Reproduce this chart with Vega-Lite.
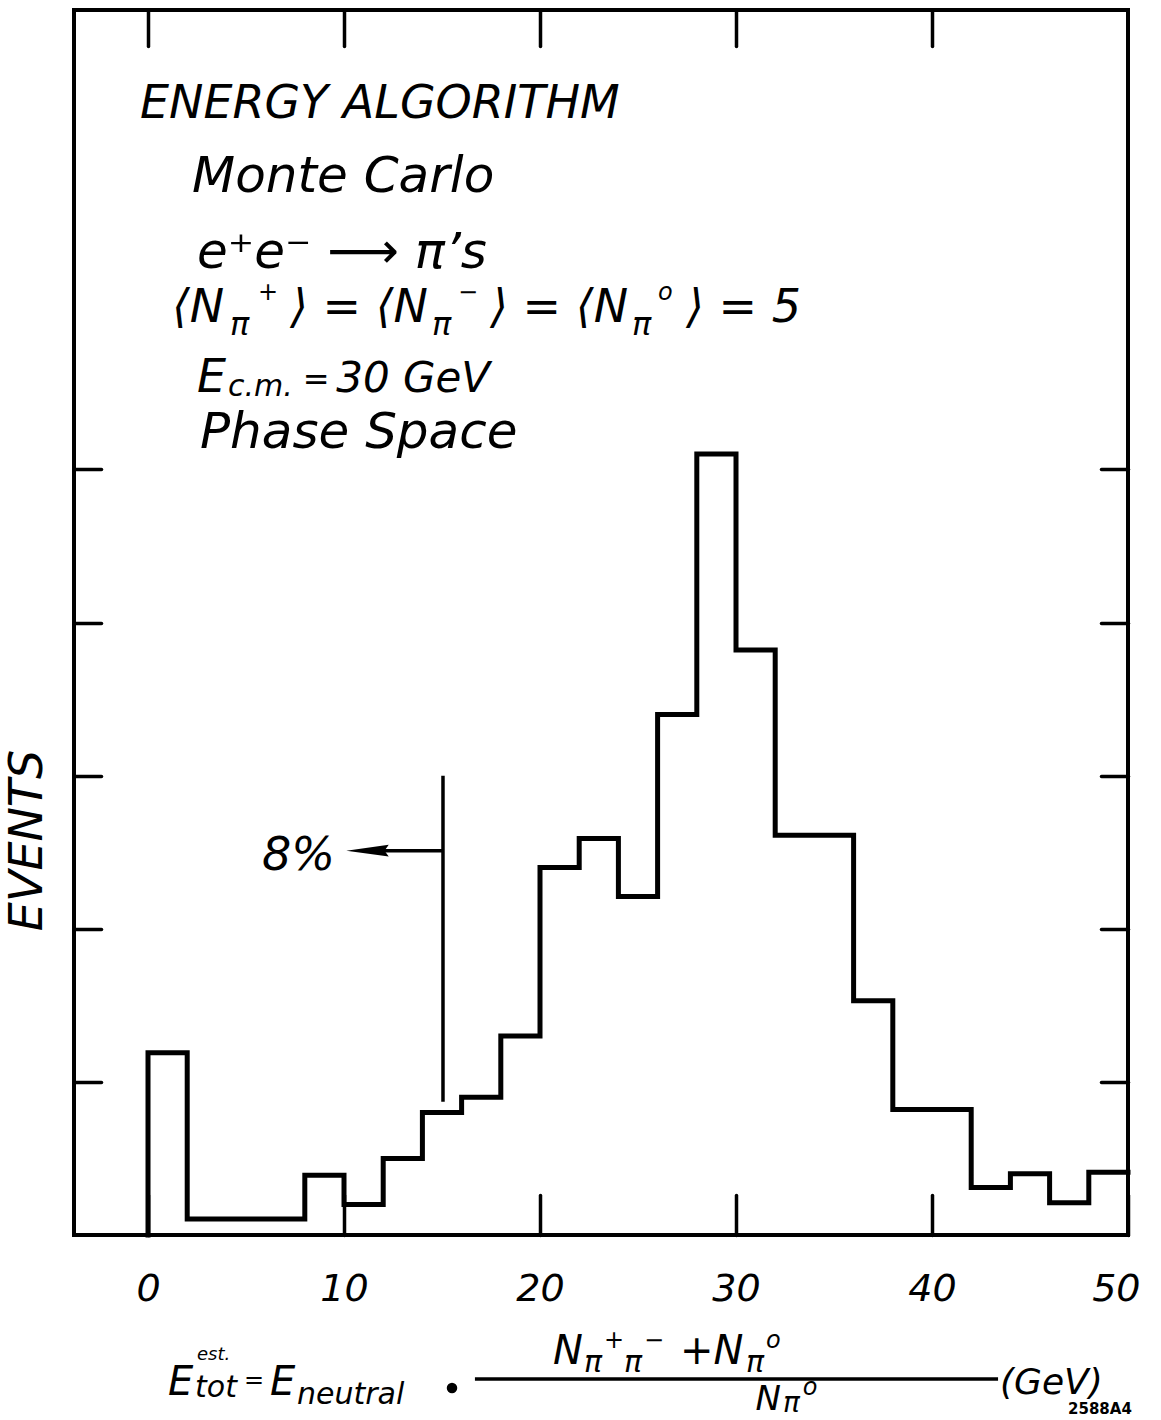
{
  "$schema": "https://vega.github.io/schema/vega-lite/v6.json",
  "autosize": {"type": "none"},
  "width": 1054,
  "height": 1225,
  "padding": {"left": 74, "top": 10, "right": 33, "bottom": 185},
  "background": "white",
  "datasets": {
    "hist": [
      {"E": 0, "events": 0},
      {"E": 0, "events": 1.19},
      {"E": 2, "events": 0.105},
      {"E": 4, "events": 0.105},
      {"E": 6, "events": 0.105},
      {"E": 8, "events": 0.39},
      {"E": 10, "events": 0.2},
      {"E": 12, "events": 0.5},
      {"E": 14, "events": 0.8},
      {"E": 16, "events": 0.9},
      {"E": 18, "events": 1.3},
      {"E": 20, "events": 2.4},
      {"E": 22, "events": 2.59},
      {"E": 24, "events": 2.21},
      {"E": 26, "events": 3.4},
      {"E": 28, "events": 5.1},
      {"E": 30, "events": 3.82},
      {"E": 32, "events": 2.61},
      {"E": 34, "events": 2.61},
      {"E": 36, "events": 1.53},
      {"E": 38, "events": 0.82},
      {"E": 40, "events": 0.82},
      {"E": 42, "events": 0.31},
      {"E": 44, "events": 0.4},
      {"E": 46, "events": 0.21},
      {"E": 48, "events": 0.41},
      {"E": 50, "events": 0.41}
    ],
    "rules": [
      {"x": 15.05, "x2": 15.05, "y": 0.87, "y2": 3.0},
      {"x": 11.0, "x2": 15.05, "y": 2.51, "y2": 2.51},
      {"x": 16.68, "x2": 43.37, "y": -0.9405, "y2": -0.9405}
    ],
    "arrow": [{"x": 11.2, "y": 2.51}],
    "dot": [{"x": 15.51, "y": -0.999}],
    "t50": [
      {"t": "Monte Carlo", "x": 2.245, "y": 6.812},
      {"t": "e⁺e⁻ ⟶ π’s", "x": 2.5, "y": 6.316},
      {"t": "Phase Space", "x": 2.65, "y": 5.14}
    ],
    "t46": [
      {"t": "ENERGY ALGORITHM", "x": -0.41, "y": 7.296},
      {"t": "⟨N", "x": 1.22, "y": 5.963},
      {"t": "⟩ = ⟨N", "x": 7.24, "y": 5.963},
      {"t": "⟩ = ⟨N", "x": 17.45, "y": 5.963},
      {"t": "⟩ = 5", "x": 27.45, "y": 5.963},
      {"t": "E", "x": 2.5, "y": 5.506},
      {"t": "8%", "x": 5.82, "y": 2.384}
    ],
    "t42": [
      {"t": "30 GeV", "x": 9.6, "y": 5.506}
    ],
    "t40": [
      {"t": "E", "x": 1.02, "y": -1.045},
      {"t": "E", "x": 6.22, "y": -1.045},
      {"t": "N", "x": 20.66, "y": -0.8425},
      {"t": "+N", "x": 27.14, "y": -0.8425}
    ],
    "t36": [
      {"t": "(GeV)", "x": 43.47, "y": -1.039}
    ],
    "t34": [
      {"t": "N", "x": 31.0, "y": -1.143}
    ],
    "t32": [
      {"t": "π", "x": 4.18, "y": 5.878},
      {"t": "π", "x": 14.49, "y": 5.878},
      {"t": "π", "x": 24.69, "y": 5.878},
      {"t": "=", "x": 7.9, "y": 5.518}
    ],
    "t30": [
      {"t": "c.m.", "x": 4.08, "y": 5.479},
      {"t": "tot", "x": 2.4, "y": -1.058},
      {"t": "neutral", "x": 7.6, "y": -1.104},
      {"t": "π", "x": 22.24, "y": -0.895},
      {"t": "π", "x": 24.29, "y": -0.895},
      {"t": "π", "x": 30.51, "y": -0.895}
    ],
    "t28": [
      {"t": "π", "x": 32.4, "y": -1.156}
    ],
    "t24": [
      {"t": "+", "x": 5.61, "y": 6.107},
      {"t": "−", "x": 15.82, "y": 6.107},
      {"t": "o", "x": 26.02, "y": 6.107},
      {"t": "=", "x": 4.9, "y": -0.999},
      {"t": "+", "x": 23.27, "y": -0.738},
      {"t": "−", "x": 25.31, "y": -0.738},
      {"t": "o", "x": 31.53, "y": -0.738},
      {"t": "o", "x": 33.4, "y": -1.045}
    ],
    "t18": [{"t": "est.", "x": 2.5, "y": -0.816}],
    "code": [{"t": "2588A4", "x": 46.94, "y": -1.17}]
  },
  "layer": [
    {
      "data": {"name": "hist"},
      "mark": {"type": "line", "interpolate": "step-after", "color": "black", "strokeWidth": 5, "strokeJoin": "miter", "strokeCap": "square"},
      "encoding": {
        "x": {"field": "E", "type": "quantitative",
              "scale": {"domain": [-3.776, 50], "nice": false, "zero": false},
              "axis": {"orient": "bottom", "values": [0, 10, 20, 30, 40, 50], "tickSize": -40, "labelPadding": 75,
                       "labelFontSize": 38, "labelFontStyle": "italic", "title": null,
                       "labelFlush": true, "labelFlushOffset": 12}},
        "y": {"field": "events", "type": "quantitative",
              "scale": {"domain": [0, 8], "nice": false, "zero": true},
              "axis": {"orient": "left", "values": [1, 2, 3, 4, 5], "tickSize": -27, "labels": false,
                       "title": "EVENTS", "titleFontSize": 46, "titleFontStyle": "italic", "titleFontWeight": "normal",
                       "titleAngle": -90, "titleX": -47, "titleY": 830, "titleAlign": "center", "titleBaseline": "middle"}},
        "order": {"value": null}
      }
    },
    {
      "data": {"name": "rules"},
      "mark": {"type": "rule", "color": "black", "strokeWidth": 3.5},
      "encoding": {
        "x": {"field": "x", "type": "quantitative",
              "axis": {"orient": "top", "values": [0, 10, 20, 30, 40], "tickSize": -36, "labels": false, "title": null}},
        "x2": {"field": "x2"},
        "y": {"field": "y", "type": "quantitative",
              "axis": {"orient": "right", "values": [1, 2, 3, 4, 5], "tickSize": -27, "labels": false, "title": null}},
        "y2": {"field": "y2"}
      }
    },
    {
      "data": {"name": "arrow"},
      "mark": {"type": "point", "shape": "M -1 0 L 1 -0.28 L 0.8 0 L 1 0.28 Z", "size": 1800, "filled": true, "color": "black", "opacity": 1},
      "encoding": {
        "x": {"field": "x", "type": "quantitative", "axis": null},
        "y": {"field": "y", "type": "quantitative", "axis": null}
      }
    },
    {
      "data": {"name": "dot"},
      "mark": {"type": "point", "shape": "circle", "size": 110, "filled": true, "color": "black", "opacity": 1},
      "encoding": {
        "x": {"field": "x", "type": "quantitative", "axis": null},
        "y": {"field": "y", "type": "quantitative", "axis": null}
      }
    },
    {
      "data": {"name": "t50"},
      "mark": {"type": "text", "fontSize": 50},
      "encoding": {
        "x": {"field": "x", "type": "quantitative", "axis": null},
        "y": {"field": "y", "type": "quantitative", "axis": null},
        "text": {"field": "t"}
      }
    },
    {
      "data": {"name": "t46"},
      "mark": {"type": "text", "fontSize": 46},
      "encoding": {
        "x": {"field": "x", "type": "quantitative", "axis": null},
        "y": {"field": "y", "type": "quantitative", "axis": null},
        "text": {"field": "t"}
      }
    },
    {
      "data": {"name": "t42"},
      "mark": {"type": "text", "fontSize": 42},
      "encoding": {
        "x": {"field": "x", "type": "quantitative", "axis": null},
        "y": {"field": "y", "type": "quantitative", "axis": null},
        "text": {"field": "t"}
      }
    },
    {
      "data": {"name": "t40"},
      "mark": {"type": "text", "fontSize": 40},
      "encoding": {
        "x": {"field": "x", "type": "quantitative", "axis": null},
        "y": {"field": "y", "type": "quantitative", "axis": null},
        "text": {"field": "t"}
      }
    },
    {
      "data": {"name": "t36"},
      "mark": {"type": "text", "fontSize": 36},
      "encoding": {
        "x": {"field": "x", "type": "quantitative", "axis": null},
        "y": {"field": "y", "type": "quantitative", "axis": null},
        "text": {"field": "t"}
      }
    },
    {
      "data": {"name": "t34"},
      "mark": {"type": "text", "fontSize": 34},
      "encoding": {
        "x": {"field": "x", "type": "quantitative", "axis": null},
        "y": {"field": "y", "type": "quantitative", "axis": null},
        "text": {"field": "t"}
      }
    },
    {
      "data": {"name": "t32"},
      "mark": {"type": "text", "fontSize": 32},
      "encoding": {
        "x": {"field": "x", "type": "quantitative", "axis": null},
        "y": {"field": "y", "type": "quantitative", "axis": null},
        "text": {"field": "t"}
      }
    },
    {
      "data": {"name": "t30"},
      "mark": {"type": "text", "fontSize": 30},
      "encoding": {
        "x": {"field": "x", "type": "quantitative", "axis": null},
        "y": {"field": "y", "type": "quantitative", "axis": null},
        "text": {"field": "t"}
      }
    },
    {
      "data": {"name": "t28"},
      "mark": {"type": "text", "fontSize": 28},
      "encoding": {
        "x": {"field": "x", "type": "quantitative", "axis": null},
        "y": {"field": "y", "type": "quantitative", "axis": null},
        "text": {"field": "t"}
      }
    },
    {
      "data": {"name": "t24"},
      "mark": {"type": "text", "fontSize": 24},
      "encoding": {
        "x": {"field": "x", "type": "quantitative", "axis": null},
        "y": {"field": "y", "type": "quantitative", "axis": null},
        "text": {"field": "t"}
      }
    },
    {
      "data": {"name": "t18"},
      "mark": {"type": "text", "fontSize": 18},
      "encoding": {
        "x": {"field": "x", "type": "quantitative", "axis": null},
        "y": {"field": "y", "type": "quantitative", "axis": null},
        "text": {"field": "t"}
      }
    },
    {
      "data": {"name": "code"},
      "mark": {"type": "text", "fontSize": 15, "fontWeight": "bold", "fontStyle": "normal"},
      "encoding": {
        "x": {"field": "x", "type": "quantitative", "axis": null},
        "y": {"field": "y", "type": "quantitative", "axis": null},
        "text": {"field": "t"}
      }
    }
  ],
  "resolve": {"axis": {"x": "independent", "y": "independent"}},
  "config": {
    "view": {"stroke": "black", "strokeWidth": 4},
    "axis": {"domain": false, "grid": false, "tickColor": "black", "tickWidth": 3.5, "tickCap": "round",
             "labelColor": "black", "titleColor": "black", "labelFont": "DejaVu Sans", "titleFont": "DejaVu Sans"},
    "text": {"font": "DejaVu Sans", "fontStyle": "italic", "color": "black", "align": "left", "baseline": "alphabetic"}
  }
}
